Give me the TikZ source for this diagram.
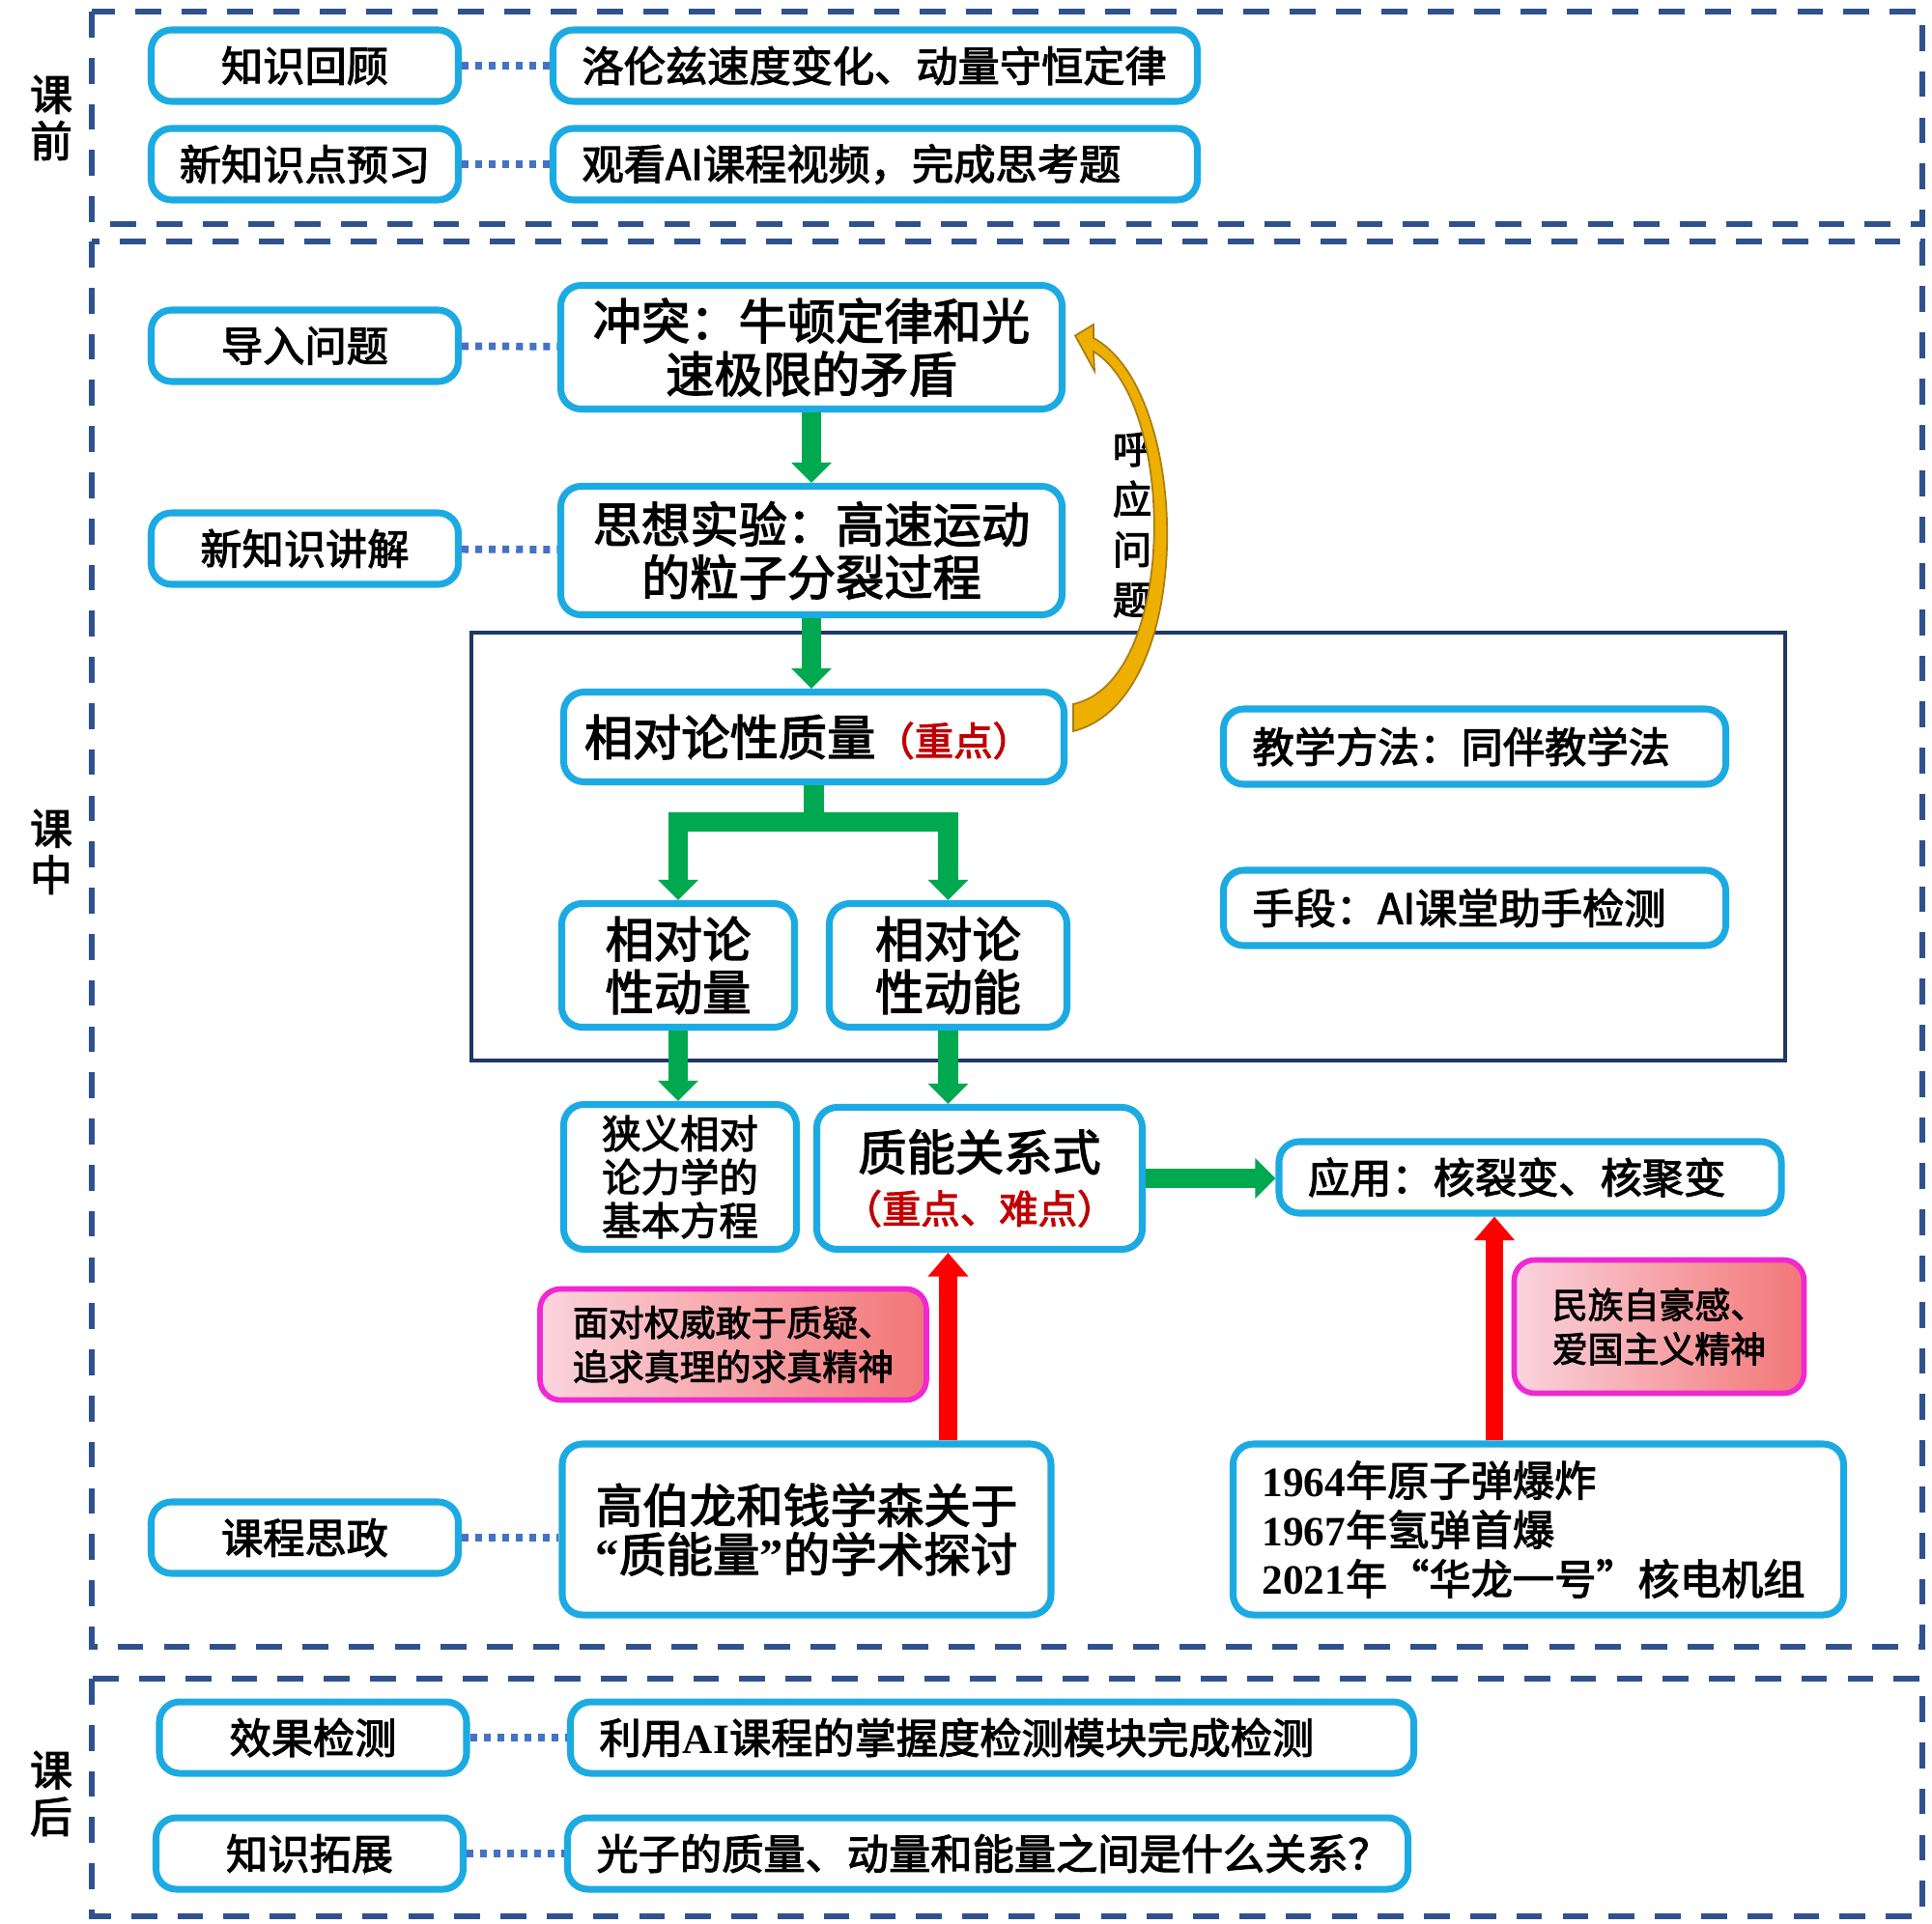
\documentclass[tikz,border=0pt]{standalone}
\usepackage{fontspec}
\setmainfont{Noto Sans CJK SC}[FakeBold=2.5]
\newfontfamily\numfont{Liberation Serif}
\usepackage{xcolor}
\usetikzlibrary{arrows.meta}

\definecolor{framecol}{RGB}{47,82,143}
\definecolor{navycol}{RGB}{31,56,100}
\definecolor{boxcyan}{RGB}{28,170,226}
\definecolor{dotblue}{RGB}{68,114,196}
\definecolor{flowgreen}{RGB}{0,168,80}
\definecolor{keyred}{RGB}{192,0,0}
\definecolor{liftred}{RGB}{255,0,0}
\definecolor{echogold}{RGB}{238,176,0}
\definecolor{echoedge}{RGB}{170,125,20}
\definecolor{virtueedge}{RGB}{240,40,210}
\definecolor{pinkleft}{RGB}{250,212,222}
\definecolor{pinkright}{RGB}{242,118,118}

\begin{document}
\begin{tikzpicture}[
  phase/.style={draw=framecol, line width=1.9pt, dash pattern=on 7.6pt off 6pt},
  phasetag/.style={align=center, font=\fontsize{12.5}{13.7}\selectfont},
  keyframe/.style={draw=navycol, line width=1.4pt},
  box/.style={draw=boxcyan, line width=2pt, rounded corners=6pt, fill=white,
    align=center, inner sep=0pt, font=\fontsize{12.3}{15}\selectfont},
  tag/.style={box, minimum width=3.18cm, minimum height=0.74cm},
  note/.style={box, align=left, inner xsep=0.3cm, inner ysep=0pt, minimum height=0.74cm},
  big/.style={font=\fontsize{14.3}{15.6}\selectfont},
  small/.style={font=\fontsize{11.5}{12.8}\selectfont},
  virtue/.style={draw=virtueedge, line width=1.6pt, rounded corners=6pt,
    left color=pinkleft, right color=pinkright, align=center, inner sep=0pt,
    font=\fontsize{10.5}{13}\selectfont},
  link/.style={draw=dotblue, line width=2.2pt, dash pattern=on 2pt off 2pt},
  flow/.style={draw=flowgreen, line width=5.8pt, -{Triangle[width=11.5pt,length=6pt]}},
  lift/.style={draw=liftred, line width=5.2pt, -{Triangle[width=11.5pt,length=7pt]}},
  echo/.style={fill=echogold, draw=echoedge, line width=0.5pt},
  echotag/.style={align=center, font=\fontsize{11.5}{14.8}\selectfont}]

 \useasboundingbox (0,0) rectangle (20,-19.92);
 \fill[white] (0,0) rectangle (20,-19.92);


 \draw[phase] (0.95,-0.12) rectangle (19.9,-2.32);

 \node[phasetag] (pre_tag) at (0.53,-1.22) {课\\前};

 \node[tag] (review) at (3.155,-0.68) {知识回顾};

 \node[note, text width=6.07cm] (review_text) at (9.06,-0.68)
     {洛伦兹速度变化、动量守恒定律};

 \node[tag] (preview) at (3.155,-1.70) {新知识点预习};

 \node[note, text width=6.07cm] (preview_text) at (9.06,-1.70)
     {观看AI课程视频，完成思考题};

 \draw[link] (review) -- (review_text);
 \draw[link] (preview) -- (preview_text);


 \draw[phase] (0.95,-2.50) rectangle (19.9,-17.05);

 \node[phasetag] (mid_tag) at (0.53,-8.82) {课\\中};

 \draw[keyframe] (4.88,-6.55) rectangle (18.48,-10.98);

 \node[tag] (intro) at (3.155,-3.58) {导入问题};

 \node[box, big, minimum width=5.19cm, minimum height=1.28cm] (conflict) at (8.40,-3.595)
     {冲突：牛顿定律和光\\速极限的矛盾};

 \node[tag] (explain) at (3.155,-5.68) {新知识讲解};

 \node[box, big, minimum width=5.19cm, minimum height=1.33cm] (thought) at (8.40,-5.70)
     {思想实验：高速运动\\的粒子分裂过程};

 \node[box, big, minimum width=5.18cm, minimum height=0.93cm] (mass) at (8.425,-7.63)
     {相对论性质量\textcolor{keyred}{\fontsize{11.5}{12}\selectfont（重点）\kern0.3em}};

 \node[note, text width=4.6cm, minimum height=0.78cm] (method) at (15.265,-7.73)
     {教学方法：同伴教学法};

 \node[note, text width=4.6cm, minimum height=0.78cm] (means) at (15.265,-9.40)
     {手段：AI课堂助手检测};

 \node[box, big, minimum width=2.41cm, minimum height=1.28cm] (momentum) at (7.02,-9.995)
     {相对论\\性动量};

 \node[box, big, minimum width=2.46cm, minimum height=1.28cm] (kinetic) at (9.815,-9.995)
     {相对论\\性动能};

 \node[box, small, minimum width=2.41cm, minimum height=1.50cm] (equation) at (7.04,-12.185)
     {狭义相对\\论力学的\\基本方程};

 \node[box, big, minimum width=3.37cm, minimum height=1.47cm] (massenergy) at (10.14,-12.20)
     {质能关系式\\\textcolor{keyred}{\fontsize{11.5}{13}\selectfont\kern0.3em（重点、难点）\kern0.3em}};

 \node[note, text width=4.6cm] (application) at (15.84,-12.19)
     {应用：核裂变、核聚变};

 \node[virtue, minimum width=4.0cm, minimum height=1.15cm] (truth) at (7.59,-13.92)
     {面对权威敢于质疑、\\追求真理的求真精神};

 \node[virtue, minimum width=3.0cm, minimum height=1.38cm] (pride) at (17.175,-13.735)
     {民族自豪感、\\爱国主义精神};

 \node[tag] (ideology) at (3.155,-15.92) {课程思政};

 \node[box, font=\fontsize{13.8}{14.4}\selectfont, minimum width=5.06cm, minimum height=1.77cm]
     (debate) at (8.35,-15.835)
     {高伯龙和钱学森关于\\{\numfont\bfseries “}质能量{\numfont\bfseries ”}的学术探讨};

 \node[note, text width=5.72cm, minimum height=1.77cm, font=\fontsize{12.3}{14.5}\selectfont]
     (nuclear) at (15.925,-15.835)
     {{\numfont\bfseries 1964}年原子弹爆炸\\{\numfont\bfseries 1967}年氢弹首爆\\{\numfont\bfseries 2021}年“华龙一号”核电机组};

 \node[echotag] (echo_tag) at (11.72,-5.43) {呼\\应\\问\\题};

 \coordinate (echo_foot) at ([xshift=0.06cm,yshift=0.06cm]mass.east);
 \coordinate (echo_tip) at ([xshift=0.1cm,yshift=0.12cm]conflict.east);



 \draw[link] (intro) -- (conflict);
 \draw[link] (explain) -- (thought);
 \draw[link] (ideology.east) -- (ideology.east -| debate.west);

 \draw[flow] (conflict) -- (thought);
 \draw[flow] (thought.south) -- (thought.south |- mass.north);
 \draw[flow] (mass.south) -- ++(0,-0.38) -| (momentum.north);
 \draw[flow] (mass.south) -- ++(0,-0.38) -| (kinetic.north);
 \draw[flow] (momentum.south) -- (momentum.south |- equation.north);
 \draw[flow] (kinetic.south) -- (kinetic.south |- massenergy.north);
 \draw[flow] (massenergy.east) -- (massenergy.east -| application.west);

 \draw[lift] (debate.north -| kinetic.south) -- (massenergy.south -| kinetic.south);
 \draw[lift] ([xshift=-0.455cm]nuclear.north) -- ([xshift=-0.37cm]application.south);

 \filldraw[echo] (echo_foot) .. controls (12.40,-7.25) and (12.34,-4.05) .. (11.32,-3.50)
     -- (11.32,-3.36) -- (echo_tip) -- (11.33,-3.84) -- (11.32,-3.64)
     .. controls (12.18,-4.15) and (12.20,-7.05) .. ([yshift=0.28cm]echo_foot) -- cycle;


 \draw[phase] (0.95,-17.38) rectangle (19.9,-19.84);

 \node[phasetag] (post_tag) at (0.53,-18.57) {课\\后};

 \node[tag] (check) at (3.24,-17.99) {效果检测};

 \node[note, text width=8.13cm] (check_text) at (10.27,-17.99)
     {利用{\numfont\bfseries AI}课程的掌握度检测模块完成检测};

 \node[tag] (extend) at (3.205,-19.19) {知识拓展};

 \node[note, text width=8.10cm] (extend_text) at (10.225,-19.19)
     {光子的质量、动量和能量之间是什么关系？};

 \draw[link] (check) -- (check_text);
 \draw[link] (extend) -- (extend_text);

\end{tikzpicture}
\end{document}
